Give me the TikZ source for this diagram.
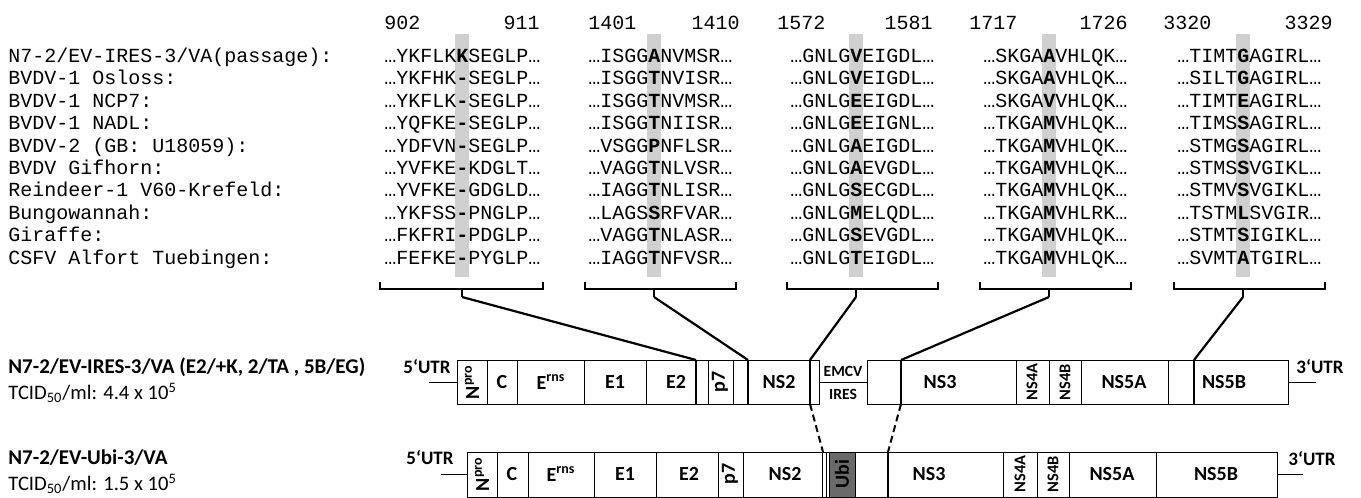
\documentclass[tikz,border=0pt]{standalone}
\usepackage{fontspec}
\setmainfont{Carlito}
\newfontfamily\seqfont{Liberation Mono}
\usetikzlibrary{positioning}
\definecolor{bandgray}{HTML}{D0D0D0}
\definecolor{ubigray}{HTML}{6A6A6A}
\tikzset{seqtext/.style = {font=\seqfont\fontsize{10}{12}\selectfont, inner sep=0pt},
         genelab/.style = {font=\bfseries\fontsize{10}{12}\selectfont, inner sep=0pt},
         smalllab/.style = {font=\bfseries\fontsize{8.2}{10}\selectfont, inner sep=0pt},
         utrlab/.style = {font=\bfseries\fontsize{9.5}{11}\selectfont, inner sep=0pt},
         namelab/.style = {font=\bfseries\fontsize{10.5}{12}\selectfont, inner sep=0pt, anchor=west},
         titerlab/.style = {font=\fontsize{10.3}{12}\selectfont, inner sep=0pt, anchor=west},
         mapline/.style = {line width=0.5pt},
         junction/.style = {line width=1.2pt},
         bracket/.style = {line width=1.1pt},
         link/.style = {line width=1.1pt},
         dashlink/.style = {line width=1pt, dash pattern=on 3.5pt off 2pt}}
\newcommand{\seqcol}[4]{%
  \foreach \pre/\res/\post [count=\i] in {#4}
    \node[seqtext, anchor=base west] (#1r\i) at ({#2-(#3+0.5)*12}, {62.5+22.4*(\i-1)}) {\pre\textbf{\res}\post};
}

\begin{document}
\begin{tikzpicture}[x=0.5pt, y=-0.5pt]
  \useasboundingbox (0,0) rectangle (1361,498);
  \foreach \xc in {462,654,856,1049,1243}
    \fill[bandgray] (\xc-7,34) rectangle (\xc+7,277);

  \foreach \xa/\xb/\na/\nb [count=\c] in {384/540/902/911, 588/740/1401/1410, 777/933/1572/1581,
                                          969/1128/1717/1726, 1163/1333/3320/3329} {
    \node[seqtext, anchor=base west] (num\c a) at (\xa,29.5) {\na};
    \node[seqtext, anchor=base east] (num\c b) at (\xb,29.5) {\nb};
  }
  \foreach \lab [count=\i] in {{N7-2/EV-IRES-3/VA(passage):}, {BVDV-1 Osloss:}, {BVDV-1 NCP7:},
                               {BVDV-1 NADL:}, {BVDV-2 (GB: U18059):}, {BVDV Gifhorn:},
                               {Reindeer-1 V60-Krefeld:}, {Bungowannah:}, {Giraffe:},
                               {CSFV Alfort Tuebingen:}}
    \node[seqtext, anchor=base west] (lab\i) at (8,{62.5+22.4*(\i-1)}) {\lab};

  \seqcol{a}{462}{6}{…YKFLK/K/SEGLP…, …YKFHK/-/SEGLP…, …YKFLK/-/SEGLP…, …YQFKE/-/SEGLP…, …YDFVN/-/SEGLP…,
                     …YVFKE/-/KDGLT…, …YVFKE/-/GDGLD…, …YKFSS/-/PNGLP…, …FKFRI/-/PDGLP…, …FEFKE/-/PYGLP…}
  \seqcol{b}{654}{5}{…ISGG/A/NVMSR…, …ISGG/T/NVISR…, …ISGG/T/NVMSR…, …ISGG/T/NIISR…, …VSGG/P/NFLSR…,
                     …VAGG/T/NLVSR…, …IAGG/T/NLISR…, …LAGS/S/RFVAR…, …VAGG/T/NLASR…, …IAGG/T/NFVSR…}
  \seqcol{c}{856}{5}{…GNLG/V/EIGDL…, …GNLG/V/EIGDL…, …GNLG/E/EIGDL…, …GNLG/E/EIGNL…, …GNLG/A/EIGDL…,
                     …GNLG/A/EVGDL…, …GNLG/S/ECGDL…, …GNLG/M/ELQDL…, …GNLG/S/EVGDL…, …GNLG/T/EIGDL…}
  \seqcol{d}{1049}{5}{…SKGA/A/VHLQK…, …SKGA/A/VHLQK…, …SKGA/V/VHLQK…, …TKGA/M/VHLQK…, …TKGA/M/VHLQK…,
                      …TKGA/M/VHLQK…, …TKGA/M/VHLQK…, …TKGA/M/VHLRK…, …TKGA/M/VHLQK…, …TKGA/M/VHLQK…}
  \seqcol{e}{1243}{5}{…TIMT/G/AGIRL…, …SILT/G/AGIRL…, …TIMT/E/AGIRL…, …TIMS/S/AGIRL…, …STMG/S/AGIRL…,
                      …STMS/S/VGIKL…, …STMV/S/VGIKL…, …TSTM/L/SVGIR…, …STMT/S/IGIKL…, …SVMT/A/TGIRL…}

  \foreach \l/\r/\xc [count=\c] in {380/543/462, 585/736/654, 787/938/856, 980/1131/1049, 1174/1325/1243} {
    \draw[bracket] (\l,282) -- (\l,289) -- (\r,289) -- (\r,282);
    \draw[bracket] (\xc,289) -- (\xc,297) coordinate (tip\c);
  }

  % upper genome map
  \draw[mapline] (457,360) rectangle (819,404);
  \draw[mapline] (867,360) rectangle (1288,404);
  \foreach \x in {487,517,584,646,708,733,1016,1049,1081,1168}
    \draw[mapline] (\x,360) -- (\x,404);
  \foreach \x [count=\k] in {696,748,810,901,1194}
    \draw[junction] (\x,404) coordinate (low\k) -- (\x,360) coordinate (top\k);
  \draw[mapline] (819,382) -- (867,382);
  \draw[mapline] (429,382) -- (457,382);
  \draw[mapline] (1288,382) -- (1316,382);
  \node[utrlab] (utr5a) at (427,367) {5‘UTR};
  \node[utrlab] (utr3a) at (1320,367) {3‘UTR};
  \node[genelab, rotate=90] (npa) at (472,382) {N\textsuperscript{pro}};
  \node[genelab, rotate=90] (p7a) at (720,382) {p7};
  \node[smalllab, rotate=90] (ns4aa) at (1032,382) {NS4A};
  \node[smalllab, rotate=90] (ns4ba) at (1065,382) {NS4B};
  \foreach \x/\t [count=\k] in {502/C, 551/E\textsuperscript{rns}, 615/E1, 676/E2, 779/NS2,
                                940/NS3, 1124/NS5A, 1224/NS5B}
    \node[genelab] (ga\k) at (\x,382) {\t};
  \node[smalllab, font=\bfseries\fontsize{7.8}{9}\selectfont] (emcv) at (843,371) {EMCV};
  \node[smalllab, font=\bfseries\fontsize{7.8}{9}\selectfont] (ires) at (843,394) {IRES};

  % lower genome map
  \draw[mapline] (467,452) rectangle (1277,497);
  \filldraw[mapline, fill=ubigray] (829,452) rectangle (855,497);
  \foreach \x in {497,528,594,656,718,743,822,826,1003,1037,1069,1156}
    \draw[mapline] (\x,452) -- (\x,497);
  \draw[junction] (888,497) -- (888,452) coordinate (bot2);
  \coordinate (bot1) at (823,452);
  \draw[mapline] (441,474) -- (467,474);
  \draw[mapline] (1277,474) -- (1303,474);
  \node[utrlab] (utr5b) at (430,458) {5‘UTR};
  \node[utrlab] (utr3b) at (1312,459) {3‘UTR};
  \node[genelab, rotate=90] (npb) at (482,474) {N\textsuperscript{pro}};
  \node[genelab, rotate=90] (p7b) at (730,474) {p7};
  \node[genelab, rotate=90, text=black] (ubi) at (842,474) {Ubi};
  \node[smalllab, rotate=90] (ns4ab) at (1020,474) {NS4A};
  \node[smalllab, rotate=90] (ns4bb) at (1053,474) {NS4B};
  \foreach \x/\t [count=\k] in {512/C, 561/E\textsuperscript{rns}, 625/E1, 689/E2, 785/NS2,
                                929/NS3, 1112/NS5A, 1216/NS5B}
    \node[genelab] (gb\k) at (\x,474) {\t};

  % connectors
  \foreach \k in {1,...,5}
    \draw[link] (tip\k) -- (top\k);
  \draw[dashlink] (low3) -- (bot1);
  \draw[dashlink] (low4) -- (bot2);

  \node[namelab] (name1) at (8,367) {N7-2/EV-IRES-3/VA (E2/+K, 2/TA , 5B/EG)};
  \node[titerlab] (titer1) at (8,393) {TCID\textsubscript{50}/ml: 4.4 x 10\textsuperscript{5}};
  \node[namelab] (name2) at (8,458) {N7-2/EV-Ubi-3/VA};
  \node[titerlab] (titer2) at (8,484) {TCID\textsubscript{50}/ml: 1.5 x 10\textsuperscript{5}};
\end{tikzpicture}
\end{document}
